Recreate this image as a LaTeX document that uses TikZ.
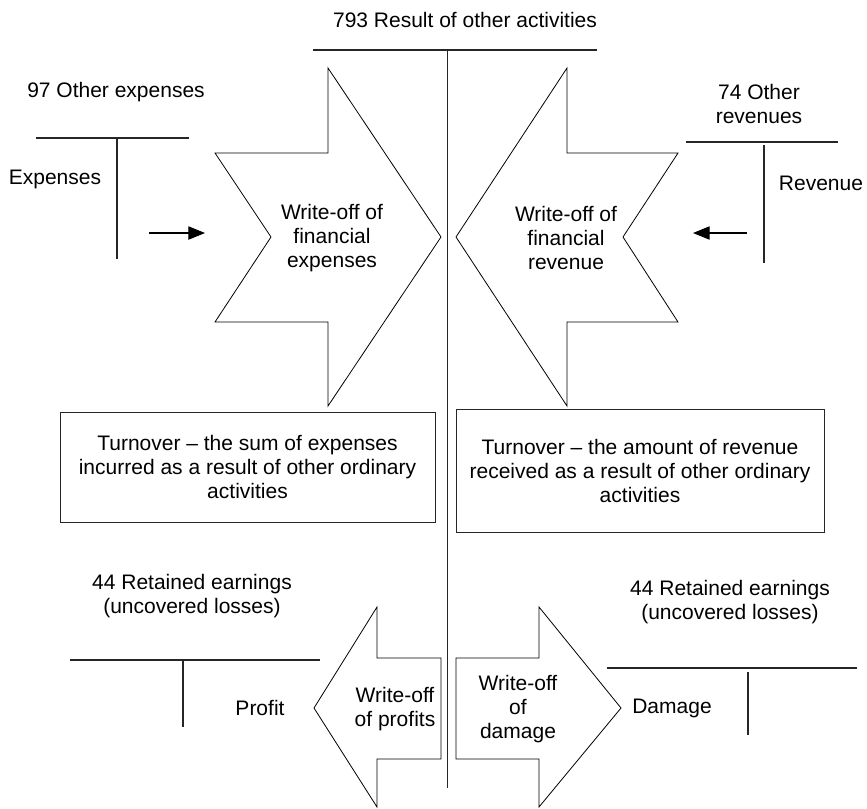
\documentclass[tikz,border=0pt]{standalone}
\usepackage{fontspec}
\setmainfont{Liberation Sans}
\usetikzlibrary{arrows.meta}
\begin{document}
\begin{tikzpicture}[x=0.75pt,y=-0.75pt,
  lbl/.style={font=\fontsize{15.75}{18}\selectfont, align=center, inner sep=0pt},
  outline/.style={draw=black, line width=0.6pt, line join=miter},
  tline/.style={draw=black!85, line width=0.8pt},
  boxnode/.style={draw=black!85, line width=0.7pt, font=\fontsize{15.75}{18}\selectfont, align=center, inner sep=0pt},
  flow/.style={-{Triangle[length=12.5pt,width=10pt]}, line width=0.8pt}]
\useasboundingbox (0,0) rectangle (867,808);

% central account 793
\node[lbl] (title) at (465,20) {793 Result of other activities};
\coordinate (tl) at (313,50);
\coordinate (tr) at (597,50);
\coordinate (ct) at (447.7,50);
\coordinate (cb) at (447.7,788);
\draw[tline] (tl) -- (tr);
\draw[tline] (ct) -- (cb);

% account 97
\node[lbl] (a97) at (116,92) {97 Other expenses};
\coordinate (a97l) at (36,138);
\coordinate (a97r) at (189,138);
\coordinate (a97t) at (117,138);
\coordinate (a97b) at (117,259);
\draw[tline] (a97l) -- (a97r);
\draw[tline] (a97t) -- (a97b);
\node[lbl] (exp) at (55,179) {Expenses};
\coordinate (e1) at (149,233);
\coordinate (e2) at (205,233);
\draw[flow] (e1) -- (e2);

% account 74
\node[lbl] (a74) at (759,104) {74 Other\\revenues};
\coordinate (a74l) at (686,142);
\coordinate (a74r) at (838,142);
\coordinate (a74t) at (764,145);
\coordinate (a74b) at (764,263);
\draw[tline] (a74l) -- (a74r);
\draw[tline] (a74t) -- (a74b);
\node[lbl] (rev) at (821,183) {Revenue};
\coordinate (r1) at (747,233);
\coordinate (r2) at (693,233);
\draw[flow] (r1) -- (r2);

% big arrows
\draw[outline] (215,153) -- (328,153) -- (328,68) -- (441,237) -- (328,406)
  -- (328,322) -- (215,322) -- (271,237) -- cycle;
\node[lbl] (wfe) at (332,238) {Write-off of\\financial\\expenses};
\draw[outline] (456,237) -- (567,68) -- (567,153) -- (678,153) -- (623,237)
  -- (678,322) -- (567,322) -- (567,406) -- cycle;
\node[lbl] (wfr) at (566,238) {Write-off of\\financial\\revenue};

% turnover boxes
\node[boxnode, minimum width=281.25pt, minimum height=82.5pt] (lbox) at (247.5,467)
  {Turnover -- the sum of expenses\\incurred as a result of other ordinary\\activities};
\node[boxnode, minimum width=276pt, minimum height=92.25pt] (rbox) at (640,470.5)
  {Turnover -- the amount of revenue\\received as a result of other ordinary\\activities};

% account 44 left
\node[lbl] (a44l) at (192,596) {44 Retained earnings\\(uncovered losses)};
\coordinate (b1l) at (70,660);
\coordinate (b1r) at (320,660);
\coordinate (b1t) at (183,660);
\coordinate (b1b) at (183,727);
\draw[tline] (b1l) -- (b1r);
\draw[tline] (b1t) -- (b1b);
\node[lbl] (profit) at (260,708) {Profit};

% small arrows
\draw[outline] (314,708) -- (377,607) -- (377,658) -- (441,658) -- (441,759)
  -- (377,759) -- (377,807) -- cycle;
\node[lbl] (wop) at (395,709) {Write-off\\of profits};
\draw[outline] (456,658) -- (539,658) -- (539,607) -- (621,708) -- (539,807)
  -- (539,759) -- (456,759) -- cycle;
\node[lbl] (wod) at (518,709) {Write-off\\of\\damage};

% account 44 right
\node[lbl] (a44r) at (730,602) {44 Retained earnings\\(uncovered losses)};
\coordinate (b2l) at (607,668);
\coordinate (b2r) at (857,668);
\coordinate (b2t) at (748,672);
\coordinate (b2b) at (748,735);
\draw[tline] (b2l) -- (b2r);
\draw[tline] (b2t) -- (b2b);
\node[lbl] (damage) at (672,708) {Damage};
\end{tikzpicture}
\end{document}
